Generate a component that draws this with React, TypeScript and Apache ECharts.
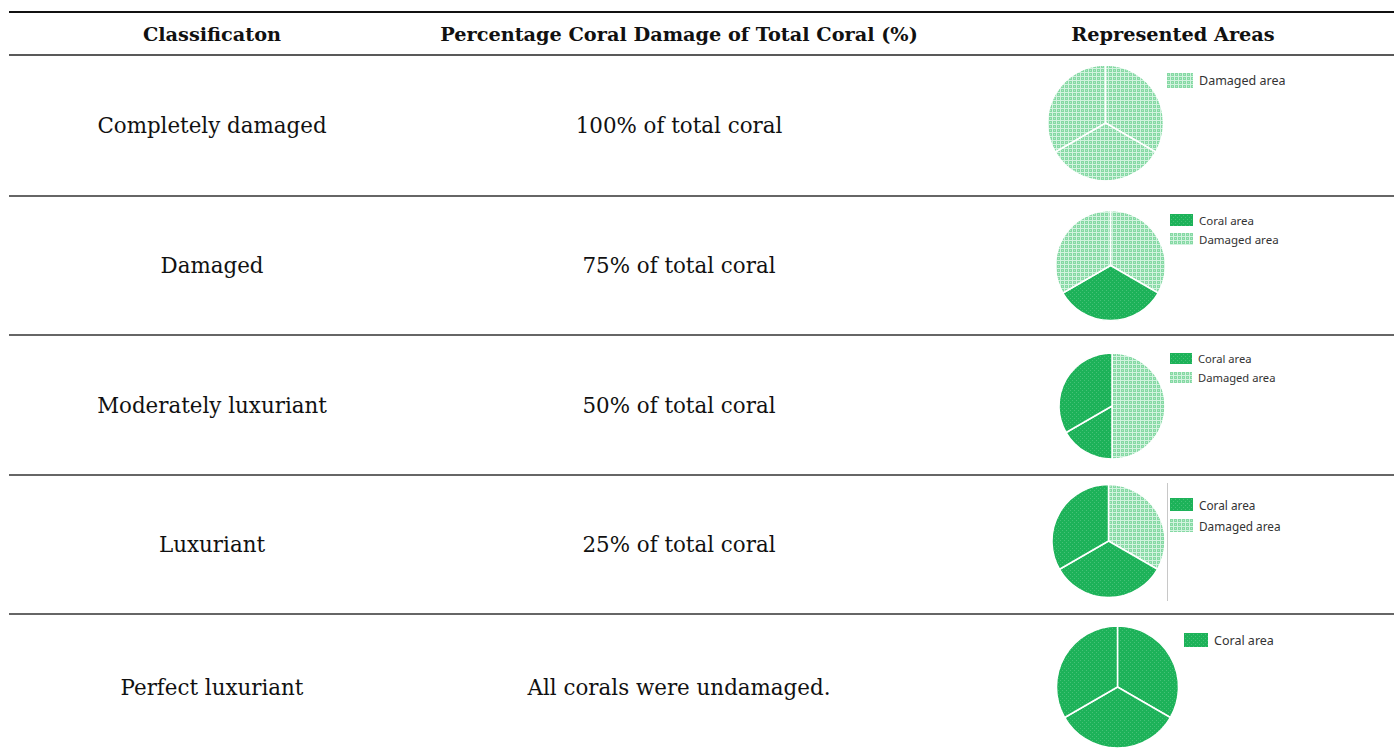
import React, { useEffect, useRef } from "react";
import * as echarts from "echarts";

const headers = ["Classificaton", "Percentage Coral Damage of Total Coral (%)", "Represented Areas"];
const classifications = ["Completely damaged", "Damaged", "Moderately luxuriant", "Luxuriant", "Perfect luxuriant"];
const damageTexts = ["100% of total coral", "75% of total coral", "50% of total coral", "25% of total coral", "All corals were undamaged."];

const sliceValues = [
  [1, 1, 1],
  [1, 1, 1],
  [3, 1, 2],
  [1, 1, 1],
  [1, 1, 1],
];
const sliceKinds = [
  ["Damaged area", "Damaged area", "Damaged area"],
  ["Damaged area", "Coral area", "Damaged area"],
  ["Damaged area", "Coral area", "Coral area"],
  ["Damaged area", "Coral area", "Coral area"],
  ["Coral area", "Coral area", "Coral area"],
];
const legendItems = [
  ["Damaged area"],
  ["Coral area", "Damaged area"],
  ["Coral area", "Damaged area"],
  ["Coral area", "Damaged area"],
  ["Coral area"],
];

// layout
const colX = [212, 679, 1173];
const headerY = 34;
const rowY = [125.5, 265.5, 405, 544.5, 687];
const hLines = [
  { y: 12, w: 2, c: "#111" },
  { y: 55, w: 1.5, c: "#222" },
  { y: 196, w: 1.3, c: "#333" },
  { y: 335, w: 1.3, c: "#333" },
  { y: 475, w: 1.3, c: "#333" },
  { y: 614, w: 1.3, c: "#333" },
];
const pieLayout = [
  { cx: 1105.5, cy: 123, r: 58 },
  { cx: 1110.5, cy: 265.5, r: 55 },
  { cx: 1112, cy: 406, r: 53 },
  { cx: 1108.5, cy: 541, r: 56.5 },
  { cx: 1117.5, cy: 687, r: 61 },
];
const legendLayout = [
  { left: 1165, top: 71, w: 28, h: 17, gap: 3, fs: 12.5 },
  { left: 1168, top: 212, w: 25, h: 14, gap: 3, fs: 11.5 },
  { left: 1168, top: 351, w: 24, h: 13, gap: 4, fs: 11.2 },
  { left: 1168, top: 496, w: 25, h: 15, gap: 4, fs: 11.8 },
  { left: 1182, top: 631, w: 26, h: 16, gap: 3, fs: 12.5 },
];

function makeDamagedTile(): HTMLCanvasElement {
  const c = document.createElement("canvas");
  c.width = 8;
  c.height = 8;
  const g = c.getContext("2d")!;
  g.fillStyle = "#86d9a4";
  g.fillRect(0, 0, 8, 8);
  g.fillStyle = "#d2f3df";
  g.fillRect(0, 0, 8, 1);
  g.fillRect(0, 4, 8, 1);
  g.fillRect(0, 0, 1, 8);
  g.fillRect(4, 0, 1, 8);
  g.fillStyle = "#b0e9c5";
  g.fillRect(2, 2, 1, 1);
  g.fillRect(6, 6, 1, 1);
  g.fillRect(2, 6, 1, 1);
  g.fillRect(6, 2, 1, 1);
  return c;
}
function makeCoralTile(): HTMLCanvasElement {
  const c = document.createElement("canvas");
  c.width = 4;
  c.height = 4;
  const g = c.getContext("2d")!;
  g.fillStyle = "#1db259";
  g.fillRect(0, 0, 4, 4);
  g.fillStyle = "#45c177";
  g.fillRect(0, 0, 1, 1);
  g.fillRect(2, 2, 1, 1);
  return c;
}

export default function App() {
  const ref = useRef<HTMLDivElement>(null);
  useEffect(() => {
    if (!ref.current) return;
    const chart = echarts.init(ref.current, undefined, { renderer: "svg" });
    const kindColor: Record<string, any> = {
      "Damaged area": { image: makeDamagedTile(), repeat: "repeat" },
      "Coral area": { image: makeCoralTile(), repeat: "repeat" },
    };
    const serif = "DejaVu Serif";
    const graphics: any[] = [];
    hLines.forEach((l) => {
      graphics.push({
        type: "line",
        shape: { x1: 9, y1: l.y, x2: 1394, y2: l.y },
        style: { stroke: l.c, lineWidth: l.w },
        silent: true,
      });
    });
    graphics.push({
      type: "line",
      shape: { x1: 1167.5, y1: 483, x2: 1167.5, y2: 601 },
      style: { stroke: "#c8c8c8", lineWidth: 1 },
      silent: true,
    });
    headers.forEach((h, i) => {
      graphics.push({
        type: "text",
        x: colX[i],
        y: headerY,
        style: {
          text: h,
          fill: "#111",
          font: `bold 19.3px "${serif}"`,
          textAlign: "center",
          textVerticalAlign: "middle",
          align: "center",
          verticalAlign: "middle",
        },
      });
    });
    classifications.forEach((t, i) => {
      [t, damageTexts[i]].forEach((s, j) => {
        graphics.push({
          type: "text",
          x: colX[j],
          y: rowY[i],
          style: {
            text: s,
            fill: "#111",
            font: `21.4px "${serif}"`,
            textAlign: "center",
            textVerticalAlign: "middle",
            align: "center",
            verticalAlign: "middle",
          },
        });
      });
    });

    const series = sliceValues.map((vals, i) => ({
      type: "pie",
      center: [pieLayout[i].cx, pieLayout[i].cy],
      radius: pieLayout[i].r,
      startAngle: 90,
      clockwise: true,
      label: { show: false },
      labelLine: { show: false },
      emphasis: { disabled: true },
      silent: true,
      itemStyle: { borderColor: "#ffffff", borderWidth: 1.5 },
      data: vals.map((v, k) => ({
        name: sliceKinds[i][k],
        value: v,
        itemStyle: { color: kindColor[sliceKinds[i][k]] },
      })),
    }));

    const legends = legendItems.map((items, i) => ({
      show: true,
      orient: "vertical",
      left: legendLayout[i].left,
      top: legendLayout[i].top,
      padding: 0,
      itemWidth: legendLayout[i].w,
      itemHeight: legendLayout[i].h,
      itemGap: legendLayout[i].gap,
      icon: "rect",
      selectedMode: false,
      data: items.map((n) => ({ name: n, icon: "rect", itemStyle: { color: kindColor[n] } })),
      textStyle: { fontFamily: "Noto Sans", fontSize: legendLayout[i].fs, color: "#333" },
    }));

    chart.setOption({
      animation: false,
      backgroundColor: "#ffffff",
      legend: legends,
      series,
      graphic: { elements: graphics },
    });
    return () => chart.dispose();
  }, []);
  return (
    <div
      ref={ref}
      style={{ position: "absolute", left: 0, top: 0, width: 1394, height: 756 }}
    />
  );
}
